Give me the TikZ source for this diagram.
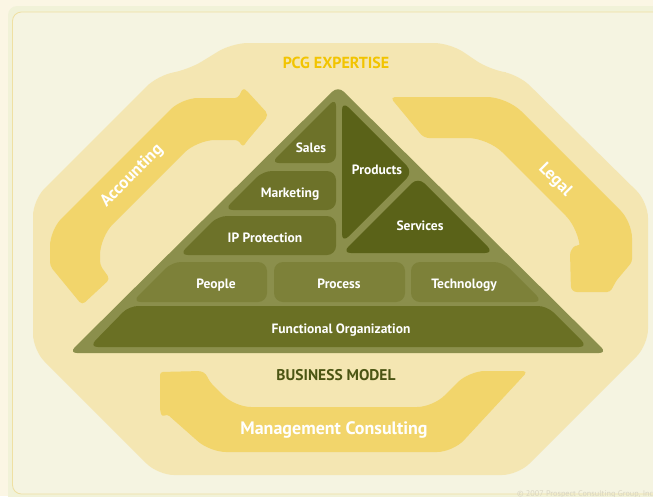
\documentclass[tikz,border=0pt]{standalone}
\usepackage{fontspec}
\setmainfont{PT Sans}
\definecolor{pagebg}{HTML}{FBF6E4}
\definecolor{band}{HTML}{F1F2D8}
\definecolor{panel}{HTML}{F5F4E1}
\definecolor{panelline}{HTML}{EFE0A2}
\definecolor{octa}{HTML}{F4E6B2}
\definecolor{arrowc}{HTML}{F2D56B}
\definecolor{pyr}{HTML}{8B8F4C}
\definecolor{tierA}{HTML}{6A7024}
\definecolor{tierB}{HTML}{7D8139}
\definecolor{tierC}{HTML}{6D7229}
\definecolor{tierD}{HTML}{5A6218}
\definecolor{bmtext}{HTML}{4B5513}
\definecolor{pcg}{HTML}{F2C400}
\definecolor{copy}{HTML}{D9D5C2}
\begin{document}
\begin{tikzpicture}[x=1pt,y=-1pt,
  lbl/.style={text=white,font=\bfseries\fontsize{13.5}{13.5}\selectfont,inner sep=0pt,anchor=base},
  biglbl/.style={text=white,font=\bfseries\fontsize{18}{18}\selectfont,inner sep=0pt,anchor=base},
  arrlbl/.style={text=white,font=\bfseries\fontsize{17}{17}\selectfont,inner sep=0pt},
  title/.style={font=\bfseries\fontsize{16}{16}\selectfont,inner sep=0pt,anchor=base}]
\useasboundingbox (0,0) rectangle (653,496);
\fill[pagebg] (0,0) rectangle (653,496);
% panel
\fill[band,rounded corners=9] (8,6) rectangle (690,520);
\filldraw[fill=panel,draw=panelline,line width=0.8pt,rounded corners=9] (12.5,12) rectangle (690,494);
% octagon
\fill[octa,rounded corners=16] (232,43) -- (450,43) -- (490,70) -- (518,74) -- (648,202) -- (648,345) -- (518,475) -- (158,475) -- (33,350) -- (33,200) -- (158,75) -- (188,70) -- cycle;
% Accounting arrow
\fill[arrowc,rounded corners=4] (82,305) -- (50,266) [rounded corners=16] -- (50,230) -- (182,98) [rounded corners=3] -- (238,98) -- (243,88) -- (247,91) [rounded corners=5] -- (269,115) [rounded corners=3] -- (247,141) -- (243,147) -- (238,140) [rounded corners=18] -- (197,140) -- (100,237) [rounded corners=4] -- (100,265) -- (110,279) -- cycle;
% Legal arrow
\fill[arrowc,rounded corners=5] (390,97) [rounded corners=20] -- (507,97) [rounded corners=16] -- (632,222) [rounded corners=3] -- (632,262) -- (616,281) -- (613,287) -- (610,292) [rounded corners=6] -- (571,292) [rounded corners=3] -- (570,252) -- (575,245) -- (580,246) [rounded corners=20] -- (580,230) -- (488,138) [rounded corners=5] -- (424,138) -- cycle;
% Management Consulting arrow
\fill[arrowc,rounded corners=8] (160,372) [rounded corners=3] -- (201,371) -- (206,374) -- (210,382) [rounded corners=16] -- (235,407) -- (433,407) -- (469,371) [rounded corners=5] -- (528,371) [rounded corners=16] -- (453,452) -- (210,452) [rounded corners=3] -- (167,414) -- (162,417) -- (160,410) -- cycle;
% pyramid
\fill[pyr,rounded corners=8] (69,353) -- (338,86) -- (607,353) -- cycle;
\fill[tierA,rounded corners=9] (89,347) -- (129,306) -- (547,306) -- (588,347) -- cycle;
\fill[tierB,rounded corners=9] (132,302) -- (172,262) -- (267,262) -- (267,302) -- cycle;
\fill[tierB,rounded corners=9] (274,262) -- (405,262) -- (405,302) -- (274,302) -- cycle;
\fill[tierB,rounded corners=9] (411,262) -- (503,262) -- (543,302) -- (411,302) -- cycle;
\fill[tierC,rounded corners=9] (179,255) -- (218,216) -- (336,216) -- (336,255) -- cycle;
\fill[tierC,rounded corners=9] (224,210) -- (263,171) -- (336,171) -- (336,210) -- cycle;
\fill[tierC,rounded corners=8] (271,163) -- (336,98) -- (336,163) -- cycle;
\fill[tierD,rounded corners=9] (342,101) -- (413,172) -- (342,243) -- cycle;
\fill[tierD,rounded corners=9] (342,253) -- (418,177) -- (494,253) -- cycle;
% labels
\node[lbl] (sales) at (311,152.7) {Sales};
\node[lbl] (mkt) at (290,197.7) {Marketing};
\node[lbl] (ip) at (265,242.7) {IP Protection};
\node[lbl] (prod) at (377,174.7) {Products};
\node[lbl] (serv) at (420,230.7) {Services};
\node[lbl] (people) at (216,288.7) {People};
\node[lbl] (proc) at (339,288.7) {Process};
\node[lbl] (tech) at (464,288.7) {Technology};
\node[lbl] (func) at (341,333.7) {Functional Organization};
\node[title,text=pcg] (pcg) at (336,68.6) {PCG EXPERTISE};
\node[title,text=bmtext,font=\bfseries\fontsize{15.5}{15.5}\selectfont] (bm) at (336,380.4) {BUSINESS MODEL};
\node[biglbl] (mc) at (334,434.3) {Management Consulting};
\node[arrlbl,rotate=45] (acc) at (132,176) {Accounting};
\node[arrlbl,rotate=-45] (legal) at (555,180) {Legal};
\node[text=copy,font=\fontsize{8.2}{8.2}\selectfont,anchor=west,inner sep=0pt] (cp) at (517,494.5) {© 2007 Prospect Consulting Group, Inc.};
\end{tikzpicture}
\end{document}
